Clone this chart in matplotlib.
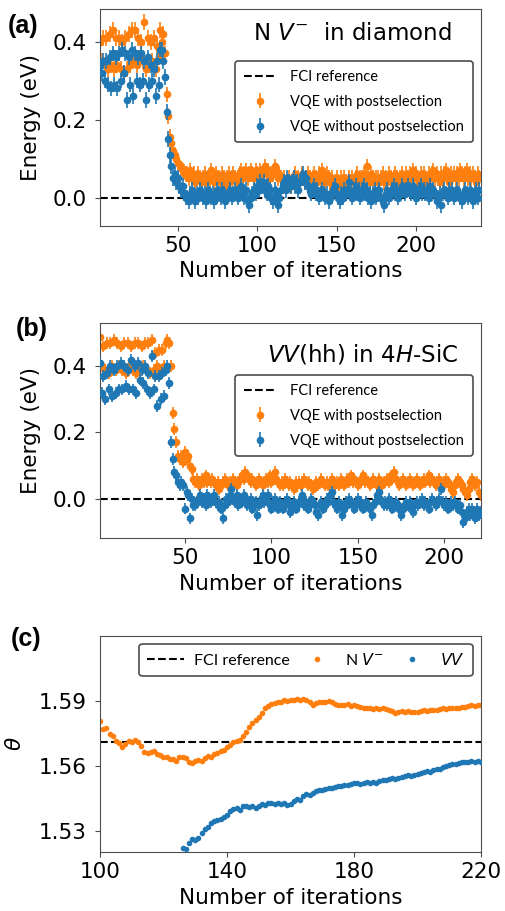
import numpy as np
import matplotlib
matplotlib.use("Agg")
import matplotlib.pyplot as plt
from matplotlib.lines import Line2D

# ---- (a) NV- in diamond: energy vs iteration (iterations 1..240) ----
a_start = 1
a_post = [
    0.40, 0.35, 0.41, 0.34, 0.41, 0.33, 0.42, 0.34, 0.43, 0.33, 0.41, 0.34, 0.41, 0.33, 0.40, 0.32,
    0.41, 0.33, 0.42, 0.34, 0.43, 0.35, 0.43, 0.34, 0.41, 0.36, 0.40, 0.35, 0.45, 0.33, 0.41, 0.34,
    0.40, 0.35, 0.41, 0.33, 0.39, 0.36, 0.43, 0.40, 0.42,
    0.37, 0.265, 0.21, 0.155, 0.14, 0.12, 0.11, 0.10, 0.09, 0.085, 0.075, 0.07, 0.065, 0.06,
    0.06, 0.05, 0.07, 0.05, 0.06, 0.04, 0.05, 0.06, 0.05, 0.04,
    0.05, 0.06, 0.04, 0.05, 0.05, 0.07, 0.05, 0.04, 0.06, 0.05,
    0.05, 0.04, 0.06, 0.05, 0.03, 0.05, 0.06, 0.04, 0.05, 0.06,
    0.05, 0.04, 0.05, 0.06, 0.07, 0.05, 0.06, 0.07, 0.05, 0.06,
    0.07, 0.06, 0.05, 0.07, 0.06, 0.05, 0.07, 0.06, 0.07, 0.08,
    0.06, 0.07, 0.05, 0.06, 0.06, 0.08, 0.07, 0.05, 0.06, 0.05,
    0.04, 0.05, 0.03, 0.04, 0.05, 0.03, 0.04, 0.05, 0.06, 0.04,
    0.05, 0.04, 0.06, 0.05, 0.04, 0.05, 0.06, 0.05, 0.04, 0.05,
    0.06, 0.05, 0.04, 0.06, 0.05, 0.07, 0.05, 0.04, 0.06, 0.05,
    0.04, 0.05, 0.03, 0.04, 0.05, 0.04, 0.03, 0.05, 0.04, 0.05,
    0.04, 0.03, 0.05, 0.04, 0.05, 0.04, 0.05, 0.06, 0.04, 0.05,
    0.05, 0.06, 0.05, 0.08, 0.05, 0.04, 0.06, 0.05, 0.04, 0.05,
    0.05, 0.04, 0.05, 0.06, 0.04, 0.05, 0.04, 0.06, 0.05, 0.04,
    0.05, 0.06, 0.05, 0.04, 0.05, 0.06, 0.05, 0.04, 0.06, 0.05,
    0.06, 0.05, 0.07, 0.05, 0.06, 0.05, 0.04, 0.06, 0.05, 0.06,
    0.05, 0.04, 0.06, 0.05, 0.06, 0.07, 0.05, 0.06, 0.05, 0.04,
    0.06, 0.05, 0.06, 0.07, 0.05, 0.04, 0.06, 0.05, 0.06, 0.05,
    0.06, 0.05, 0.07, 0.06, 0.05, 0.06, 0.07, 0.05, 0.06, 0.05,
    0.06, 0.05, 0.04, 0.06, 0.05,
]
a_nopost = [
    0.34, 0.32, 0.35, 0.30, 0.35, 0.29, 0.36, 0.28, 0.37, 0.29, 0.36, 0.28, 0.37, 0.30, 0.38, 0.32,
    0.37, 0.25, 0.36, 0.29, 0.38, 0.26, 0.37, 0.30, 0.36, 0.29, 0.37, 0.30, 0.35, 0.25, 0.36, 0.29,
    0.34, 0.30, 0.33, 0.26, 0.35, 0.29, 0.38, 0.38, 0.35,
    0.31, 0.22, 0.15, 0.11, 0.08, 0.05, 0.06, 0.04, 0.05, 0.03, 0.02, 0.03, 0.01, 0.00,
    0.00, -0.01, 0.01, 0.02, 0.00, -0.01, 0.01, 0.00, 0.02, 0.01,
    0.00, 0.01, -0.01, 0.02, 0.01, 0.00, 0.01, -0.01, 0.00, 0.02,
    0.01, 0.00, 0.02, 0.01, -0.01, 0.00, 0.01, 0.02, 0.00, 0.01,
    0.02, 0.01, 0.00, 0.01, 0.03, 0.01, 0.00, 0.02, -0.01, -0.02,
    0.00, 0.01, 0.02, 0.01, 0.03, 0.02, 0.04, 0.03, 0.04, 0.02,
    0.01, 0.03, 0.02, 0.00, -0.01, 0.02, 0.01, -0.02, 0.00, 0.02,
    0.03, 0.04, 0.02, 0.05, 0.04, 0.03, 0.04, 0.05, 0.03, 0.04,
    0.02, 0.04, 0.05, 0.06, 0.04, 0.05, 0.03, 0.02, 0.01, 0.02,
    0.03, 0.01, 0.02, 0.00, 0.01, 0.02, 0.01, 0.00, 0.01, -0.01,
    0.00, 0.01, 0.02, 0.03, 0.01, 0.00, -0.01, 0.01, 0.00, 0.02,
    0.01, 0.02, 0.04, 0.01, 0.00, 0.02, 0.03, 0.01, 0.02, 0.00,
    0.02, 0.03, 0.01, 0.02, 0.00, 0.01, -0.01, 0.01, 0.02, 0.00,
    0.01, 0.02, 0.00, -0.01, -0.02, 0.01, 0.02, 0.00, 0.01, 0.02,
    0.03, 0.01, 0.02, 0.00, 0.01, 0.03, 0.02, 0.01, 0.02, 0.03,
    0.02, 0.01, 0.03, 0.02, 0.00, 0.01, 0.02, 0.03, 0.01, 0.02,
    0.01, 0.02, 0.00, 0.03, 0.01, 0.02, 0.01, -0.01, 0.00, 0.01,
    -0.02, 0.01, 0.02, 0.01, 0.00, 0.02, 0.01, 0.02, 0.00, 0.01,
    0.02, 0.01, 0.00, -0.01, 0.01, 0.02, 0.01, 0.00, 0.02, 0.01,
    -0.01, 0.01, 0.02, 0.00, 0.02,
]
a_err = 0.02

# ---- (b) VV(hh) in 4H-SiC (iterations 1..221) ----
b_start = 1
b_post = [
    0.49, 0.40, 0.46, 0.39, 0.47, 0.38, 0.47, 0.40, 0.48, 0.39, 0.47, 0.40, 0.46, 0.39, 0.47, 0.38,
    0.47, 0.40, 0.46, 0.39, 0.47, 0.38, 0.47, 0.39, 0.46, 0.40, 0.47, 0.39, 0.47, 0.38, 0.48, 0.39,
    0.44, 0.40, 0.45, 0.39, 0.45, 0.40, 0.47, 0.48, 0.47, 0.40,
    0.26, 0.21, 0.17, 0.13, 0.12, 0.13, 0.11, 0.14, 0.12, 0.13, 0.10, 0.09, 0.06,
    0.05, 0.06, 0.04, 0.05, 0.06, 0.05, 0.07, 0.05, 0.06, 0.05,
    0.06, 0.05, 0.04, 0.05, 0.03, 0.04, 0.05, 0.06, 0.05, 0.04,
    0.05, 0.04, 0.06, 0.05, 0.04, 0.05, 0.06, 0.07, 0.06, 0.08,
    0.07, 0.06, 0.05, 0.06, 0.05, 0.04, 0.05, 0.06, 0.05, 0.04,
    0.05, 0.06, 0.05, 0.07, 0.05, 0.06, 0.08, 0.06, 0.05, 0.04,
    0.05, 0.04, 0.06, 0.05, 0.04, 0.05, 0.04, 0.03, 0.05, 0.04,
    0.05, 0.04, 0.05, 0.06, 0.05, 0.04, 0.05, 0.04, 0.03, 0.04,
    0.05, 0.04, 0.05, 0.06, 0.05, 0.04, 0.05, 0.04, 0.05, 0.06,
    0.05, 0.04, 0.05, 0.04, 0.06, 0.05, 0.04, 0.05, 0.06, 0.05,
    0.07, 0.05, 0.06, 0.05, 0.04, 0.05, 0.06, 0.07, 0.05, 0.06,
    0.05, 0.04, 0.05, 0.06, 0.05, 0.04, 0.06, 0.05, 0.04, 0.05,
    0.05, 0.06, 0.05, 0.07, 0.06, 0.08, 0.06, 0.05, 0.04, 0.05,
    0.06, 0.05, 0.04, 0.05, 0.06, 0.05, 0.04, 0.05, 0.06, 0.05,
    0.04, 0.05, 0.06, 0.05, 0.06, 0.07, 0.05, 0.06, 0.05, 0.04,
    0.05, 0.06, 0.05, 0.04, 0.05, 0.06, 0.05, 0.04, 0.03, 0.02,
    0.04, 0.05, 0.06, 0.05, 0.04, 0.03, 0.02, 0.01, 0.03, 0.05,
    0.06, 0.05, 0.04, 0.05, 0.02, 0.01,
]
b_nopost = [
    0.41, 0.32, 0.37, 0.30, 0.38, 0.33, 0.40, 0.31, 0.39, 0.32, 0.40, 0.33, 0.41, 0.33, 0.40, 0.34,
    0.39, 0.33, 0.42, 0.33, 0.40, 0.32, 0.41, 0.36, 0.39, 0.35, 0.40, 0.33, 0.38, 0.32, 0.43, 0.33,
    0.37, 0.28, 0.37, 0.30, 0.38, 0.31, 0.39, 0.40, 0.35, 0.17,
    0.12, 0.08, 0.07, 0.05, 0.04, 0.05, 0.04, -0.03, 0.02, 0.01, -0.06, 0.00, -0.02,
    -0.02, -0.01, 0.00, 0.01, -0.01, 0.00, -0.02, 0.01, 0.00, -0.01,
    0.00, 0.01, -0.01, -0.02, -0.01, -0.03, -0.06, -0.02, 0.00, -0.01,
    0.01, 0.03, 0.00, -0.01, 0.01, -0.02, 0.00, -0.01, 0.01, 0.00,
    -0.02, -0.01, 0.00, -0.03, -0.02, -0.01, -0.05, -0.02, 0.00, 0.01,
    -0.01, 0.00, 0.01, -0.02, -0.03, -0.01, 0.00, -0.02, -0.03, -0.01,
    -0.02, -0.03, -0.01, 0.00, -0.02, -0.04, -0.02, -0.01, -0.03, -0.02,
    -0.01, 0.00, 0.01, -0.02, -0.01, -0.03, -0.02, 0.00, -0.01, -0.02,
    -0.04, -0.05, -0.02, -0.01, -0.03, -0.02, 0.00, -0.01, 0.01, 0.02,
    -0.01, -0.02, -0.03, -0.01, -0.02, -0.05, -0.03, -0.01, -0.02, 0.00,
    -0.01, -0.02, -0.03, -0.01, 0.00, -0.02, -0.01, -0.03, -0.02, -0.01,
    -0.02, -0.03, -0.05, -0.02, -0.01, 0.01, 0.02, 0.00, -0.01, -0.02,
    -0.01, -0.02, 0.00, -0.01, -0.03, -0.02, -0.01, -0.02, -0.03, -0.05,
    -0.03, -0.02, -0.01, -0.02, -0.01, -0.03, -0.04, -0.02, -0.01, -0.02,
    -0.01, 0.00, -0.02, -0.01, -0.02, -0.03, -0.01, 0.00, -0.01, -0.02,
    -0.01, 0.00, 0.03, -0.01, -0.02, -0.01, -0.03, -0.02, -0.01, -0.02,
    -0.01, -0.02, -0.03, -0.02, -0.04, -0.07, -0.06, -0.04, -0.03, -0.05,
    -0.03, -0.04, -0.06, -0.03, -0.05, -0.04,
]
b_err = 0.018

# ---- (c) theta vs iteration ----
fci_theta = 1.5708
c_nv_start = 100
c_nv = [
    1.5804, 1.5768, 1.5772, 1.5745, 1.5735, 1.5712, 1.5705, 1.5688, 1.5702, 1.5712,
    1.5708, 1.5718, 1.5708, 1.5692, 1.5665, 1.5660, 1.5662, 1.5668, 1.5655, 1.5648,
    1.5640, 1.5642, 1.5630, 1.5632, 1.5622, 1.5638, 1.5640, 1.5635, 1.5618, 1.5612,
    1.5620, 1.5625, 1.5622, 1.5635, 1.5645, 1.5642, 1.5652, 1.5658, 1.5670, 1.5672,
    1.5688, 1.5695, 1.5710, 1.5715, 1.5718, 1.5735, 1.5757, 1.5778, 1.5796, 1.5810,
    1.5827, 1.5845, 1.5865, 1.5875, 1.5885, 1.5888, 1.5893, 1.5895, 1.5902, 1.5898,
    1.5905, 1.5902, 1.5908, 1.5903, 1.5906, 1.5902, 1.5893, 1.5882, 1.5888, 1.5893,
    1.5895, 1.5892, 1.5897, 1.5893, 1.5886, 1.5878, 1.5882, 1.5878, 1.5883, 1.5877,
    1.5879, 1.5875, 1.5871, 1.5868, 1.5865, 1.5868, 1.5862, 1.5866, 1.5863, 1.5867,
    1.5862, 1.5858, 1.5851, 1.5844, 1.5847, 1.5852, 1.5848, 1.5851, 1.5846, 1.5850,
    1.5848, 1.5853, 1.5855, 1.5852, 1.5858, 1.5856, 1.5859, 1.5863, 1.5866, 1.5862,
    1.5867, 1.5864, 1.5868, 1.5866, 1.5871, 1.5869, 1.5876, 1.5879, 1.5877, 1.5882,
    1.5881,
]
c_vv_start = 126
c_vv = [
    1.5221, 1.5215, 1.5242, 1.5262, 1.5258, 1.5266, 1.5288, 1.5310, 1.5318, 1.5335,
    1.5345, 1.5350, 1.5352, 1.5365, 1.5372, 1.5392, 1.5398, 1.5403, 1.5395, 1.5412,
    1.5415, 1.5408, 1.5412, 1.5405, 1.5413, 1.5422, 1.5418, 1.5426, 1.5428, 1.5422,
    1.5430, 1.5425, 1.5428, 1.5418, 1.5425, 1.5438, 1.5445, 1.5442, 1.5458, 1.5468,
    1.5465, 1.5472, 1.5482, 1.5488, 1.5486, 1.5492, 1.5498, 1.5495, 1.5502, 1.5508,
    1.5505, 1.5512, 1.5509, 1.5515, 1.5518, 1.5522, 1.5516, 1.5522, 1.5525, 1.5521,
    1.5526, 1.5522, 1.5529, 1.5534, 1.5532, 1.5538, 1.5542, 1.5539, 1.5545, 1.5548,
    1.5552, 1.5556, 1.5553, 1.5559, 1.5562, 1.5566, 1.5569, 1.5574, 1.5572, 1.5579,
    1.5586, 1.5584, 1.5592, 1.5598, 1.5601, 1.5606, 1.5609, 1.5612, 1.5618, 1.5615,
    1.5619, 1.5622, 1.5616, 1.5621, 1.5618,
]

ORANGE = "#ff7f0e"
BLUE = "#1f77b4"
LEG_FONT = {"family": "Lato", "size": 10.5}
TICK_FS = 15.5

fig = plt.figure(figsize=(5.05, 9.11), dpi=100)
ax_a = fig.add_axes([0.198, 0.7519, 0.7545, 0.2382])
ax_b = fig.add_axes([0.198, 0.4091, 0.7545, 0.2360])
ax_c = fig.add_axes([0.198, 0.0644, 0.7545, 0.2378])


def style(ax):
    for s in ax.spines.values():
        s.set_color("0.3")
    ax.tick_params(labelsize=TICK_FS, color="0.3")
    ax.tick_params(axis="y", pad=6)
    ax.set_xlabel("Number of iterations", fontsize=TICK_FS)


def energy_panel(ax, start, post, nopost, err, xlim, ylim, title, title_xy, leg_anchor):
    x_post = np.arange(start, start + len(post))
    x_nop = np.arange(start, start + len(nopost))
    ax.axhline(0.0, ls="--", color="k", lw=1.5, label="FCI reference", zorder=1)
    ax.errorbar(x_post, post, yerr=err, fmt="o", ms=4.5, color=ORANGE,
                elinewidth=1.2, ecolor=ORANGE, label="VQE with postselection", zorder=2)
    ax.errorbar(x_nop, nopost, yerr=err, fmt="o", ms=4.5, color=BLUE,
                elinewidth=1.2, ecolor=BLUE, label="VQE without postselection", zorder=3)
    ax.set_xlim(*xlim)
    ax.set_ylim(*ylim)
    ax.set_xticks([50, 100, 150, 200])
    ax.set_yticks([0.0, 0.2, 0.4])
    ax.set_ylabel("Energy (eV)", fontsize=TICK_FS, labelpad=8)
    ax.text(title_xy[0], title_xy[1], title, transform=ax.transAxes, fontsize=16.5,
            ha="center", va="center")
    leg = ax.legend(loc="upper right", bbox_to_anchor=leg_anchor, borderaxespad=0,
                    prop=LEG_FONT, handlelength=2.3, handletextpad=0.9, labelspacing=0.75,
                    borderpad=0.6, framealpha=1)
    leg.get_frame().set_edgecolor("0.3")
    leg.get_frame().set_linewidth(1.2)
    style(ax)


energy_panel(ax_a, a_start, a_post, a_nopost, a_err, (1, 241), (-0.073, 0.484),
             r"N $V^{-}$  in diamond", (0.661, 0.885), (0.979, 0.760))
energy_panel(ax_b, b_start, b_post, b_nopost, b_err, (1, 221.2), (-0.12, 0.53),
             r"$VV$(hh) in 4$H$-SiC", (0.689, 0.853), (0.979, 0.7595))

# panel (c)
x_nv = np.arange(c_nv_start, c_nv_start + len(c_nv))
x_vv = np.arange(c_vv_start, c_vv_start + len(c_vv))
ax_c.axhline(fci_theta, ls="--", color="k", lw=1.5, zorder=1)
ax_c.plot(x_nv, c_nv, "o", ms=3, color=ORANGE, zorder=2)
ax_c.plot(x_vv, c_vv, "o", ms=3, color=BLUE, zorder=3)
ax_c.set_xlim(100, 220)
ax_c.set_ylim(1.52, 1.62)
ax_c.set_xticks([100, 140, 180, 220])
ax_c.set_yticks([1.53, 1.56, 1.59])
ax_c.set_ylabel(r"$\theta$", fontsize=TICK_FS, labelpad=10)
handles = [
    Line2D([], [], ls="--", color="k", lw=1.5),
    Line2D([], [], ls="", marker="o", ms=3, color=ORANGE),
    Line2D([], [], ls="", marker="o", ms=3, color=BLUE),
]
leg = ax_c.legend(handles, ["FCI reference", r"N $V^{-}$", r"$VV$"], ncol=3,
                  loc="upper right", bbox_to_anchor=(0.978, 0.962), borderaxespad=0,
                  prop={"family": "Lato", "size": 11.5}, handlelength=2.3,
                  handletextpad=0.6, columnspacing=0.6, borderpad=0.5, framealpha=1)
leg.get_frame().set_edgecolor("0.3")
leg.get_frame().set_linewidth(1.2)
style(ax_c)

for lab, xpx, ypx in (("(a)", 8, 25.5), ("(b)", 16, 329), ("(c)", 11, 639)):
    fig.text(xpx / 505, 1 - ypx / 911, lab, fontsize=18,
             fontweight="bold", family="Liberation Sans", va="center")

fig.savefig("out.png", dpi=100)
